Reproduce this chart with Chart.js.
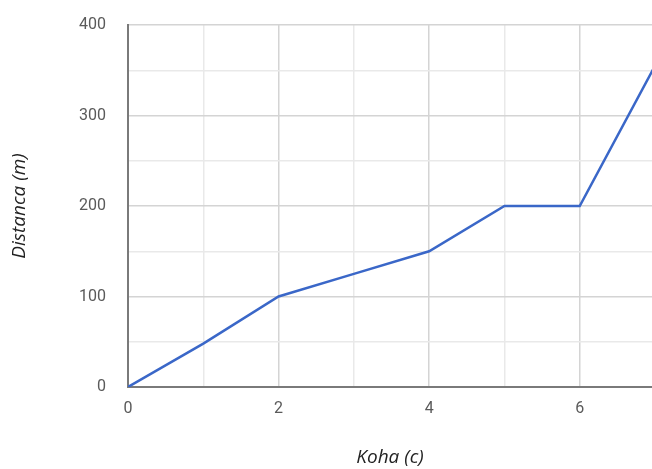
<!DOCTYPE html>
<html>
<head>
<meta charset="utf-8">
<script src="https://cdn.jsdelivr.net/npm/chart.js@4"></script>
<style>
  html, body { margin: 0; padding: 0; background: #fff; }
  #wrap { width: 652px; height: 469px; }
</style>
</head>
<body>
<div id="wrap"><canvas id="myChartLine" width="652" height="469"></canvas></div>
<script>
// time (c) and distance (m)
let koha = [0, 1, 2, 3, 4, 5, 6, 7];
let distanca = [0, 48, 100, 125, 150, 200, 200, 355];
let xTickLabels = ['0', '2', '4', '6'];
let yTickLabels = ['0', '100', '200', '300', '400'];

let points = [];
for (let i in koha) {
    points[i] = { x: koha[i], y: distanca[i] };
}

let canvas = document.getElementById('myChartLine');
let tickFont = { family: 'Roboto', size: 16 };
let titleFont = { family: 'Open Sans', size: 19, style: 'italic' };

myChartLine = new Chart(canvas, {
    type: 'scatter',
    data: {
        datasets: [{
            label: 'Distanca',
            data: points,
            showLine: true,
            borderColor: '#3a67c8',
            borderWidth: 2.5,
            pointRadius: 0,
            tension: 0
        }]
    },
    options: {
        responsive: false,
        animation: false,
        layout: { padding: { top: 25, right: 0, left: 0, bottom: 0 } },
        plugins: { legend: { display: false }, tooltip: { enabled: false } },
        scales: {
            x: {
                type: 'linear',
                min: 0,
                max: 6.96,
                afterBuildTicks: function (scale) {
                    scale.ticks = koha.filter(v => v <= 6).map(v => ({ value: v }));
                },
                afterFit: function (scale) {
                    scale.height = 82;
                    scale.paddingLeft = 0;
                    scale.paddingRight = 0;
                },
                ticks: {
                    color: '#5a5a5a',
                    font: tickFont,
                    padding: 12,
                    maxRotation: 0,
                    autoSkip: false,
                    callback: function (v) {
                        return xTickLabels.indexOf(String(v)) >= 0 ? String(v) : '';
                    }
                },
                grid: {
                    drawTicks: false,
                    color: function (ctx) {
                        return ctx.tick && ctx.tick.value % 2 === 0 ? '#d4d4d4' : '#e9e9e9';
                    },
                    lineWidth: 1.5
                },
                border: { color: '#7a7a7a', width: 2 },
                title: {
                    display: true,
                    text: 'Koha (c)',
                    color: '#222',
                    font: titleFont,
                    padding: { top: 25, bottom: 0 }
                }
            },
            y: {
                min: 0,
                max: 400,
                afterFit: function (scale) {
                    scale.width = 128;
                    scale.paddingTop = 0;
                    scale.paddingBottom = 0;
                },
                ticks: {
                    stepSize: 50,
                    color: '#5a5a5a',
                    font: tickFont,
                    padding: 22,
                    callback: function (v) {
                        return yTickLabels.indexOf(String(v)) >= 0 ? String(v) : '';
                    }
                },
                grid: {
                    drawTicks: false,
                    color: function (ctx) {
                        return ctx.tick && ctx.tick.value % 100 === 0 ? '#d4d4d4' : '#e9e9e9';
                    },
                    lineWidth: 1.5
                },
                border: { color: '#7a7a7a', width: 2 },
                title: {
                    display: true,
                    text: 'Distanca (m)',
                    color: '#222',
                    font: titleFont,
                    padding: { top: 8, bottom: 0 }
                }
            }
        }
    }
});
</script>
</body>
</html>
